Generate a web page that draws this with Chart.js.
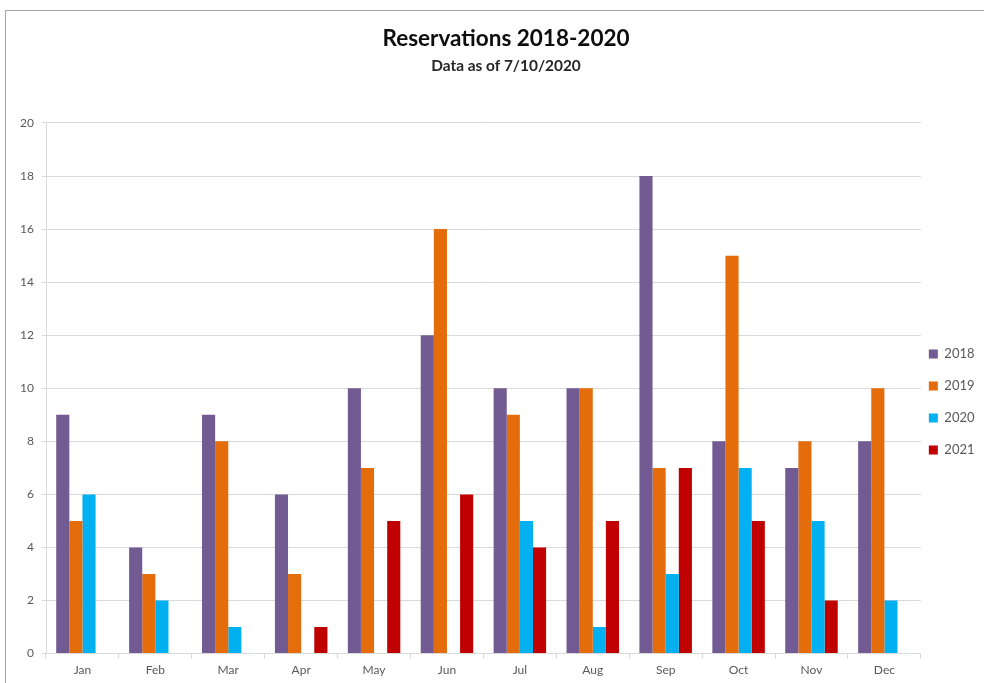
<!DOCTYPE html>
<html>
<head>
<meta charset="utf-8">
<script src="https://cdn.jsdelivr.net/npm/chart.js@4.4.1/dist/chart.umd.min.js"></script>
<style>
    html, body { margin: 0; padding: 0; background: #fff; overflow: hidden; }
    #frame {
        position: absolute; left: 5px; top: 10px;
        width: 1000px; height: 700px;
        border: 1px solid #a6a6a6;
    }
    #wrap { position: absolute; left: 0; top: 0; width: 1000px; height: 683px; }
</style>
</head>
<body>
<div id="frame"></div>
<div id="wrap"><canvas id="resChart"></canvas></div>
<script>
// Chart data
const months = ['Jan', 'Feb', 'Mar', 'Apr', 'May', 'Jun', 'Jul', 'Aug', 'Sep', 'Oct', 'Nov', 'Dec'];
const res2018 = [9, 4, 9, 6, 10, 12, 10, 10, 18, 8, 7, 8];
const res2019 = [5, 3, 8, 3, 7, 16, 9, 10, 7, 15, 8, 10];
const res2020 = [6, 2, 1, 0, 0, 0, 5, 1, 3, 7, 5, 2];
const res2021 = [0, 0, 0, 1, 5, 6, 4, 5, 7, 5, 2, 0];

const COLORS = {
    y2018: '#725b93',
    y2019: '#e46c0a',
    y2020: '#00b0f0',
    y2021: '#c00000',
    grid: '#d9d9d9',
    text: '#595959'
};

const FONT = 'Lato, "Open Sans", sans-serif';
const LEGEND_SHIFT = 11; // pull the legend a bit closer to the plot

function makeSet(label, data, color) {
    return {
        label: label,
        data: data,
        backgroundColor: color,
        borderWidth: 0,
        categoryPercentage: 0.72,
        barPercentage: 1.0
    };
}

// Moves the legend left after layout, so the plot can stay wide
const legendNudge = {
    id: 'legendNudge',
    afterLayout(chart) {
        if (!chart.legend) return;
        chart.legend.left -= LEGEND_SHIFT;
        chart.legend.right -= LEGEND_SHIFT;
    }
};

const ctx = document.getElementById('resChart').getContext('2d');

new Chart(ctx, {
    type: 'bar',
    data: {
        labels: months,
        datasets: [
            makeSet('2018', res2018, COLORS.y2018),
            makeSet('2019', res2019, COLORS.y2019),
            makeSet('2020', res2020, COLORS.y2020),
            makeSet('2021', res2021, COLORS.y2021)
        ]
    },
    plugins: [legendNudge],
    options: {
        responsive: true,
        maintainAspectRatio: false,
        animation: false,
        devicePixelRatio: 1,
        layout: {
            padding: { left: 16.5, right: 4.5, top: 25, bottom: 2 }
        },
        scales: {
            x: {
                grid: {
                    drawOnChartArea: false,
                    drawTicks: true,
                    tickLength: 5,
                    color: COLORS.grid
                },
                border: { color: COLORS.grid },
                ticks: {
                    color: COLORS.text,
                    font: { family: FONT, size: 12 },
                    padding: 4
                }
            },
            y: {
                min: 0,
                max: 20,
                ticks: {
                    stepSize: 2,
                    color: COLORS.text,
                    font: { family: FONT, size: 12 },
                    padding: 8
                },
                grid: {
                    color: COLORS.grid,
                    tickLength: 4
                },
                border: { color: COLORS.grid },
                afterFit: (scale) => { scale.width = 29.5; }
            }
        },
        plugins: {
            title: {
                display: true,
                text: 'Reservations 2018-2020',
                color: '#0d0d0d',
                font: { family: FONT, size: 22.5, weight: 'bold' },
                padding: { top: 0, bottom: 5 }
            },
            subtitle: {
                display: true,
                text: 'Data as of 7/10/2020',
                color: '#262626',
                font: { family: FONT, size: 15.4, weight: 'bold' },
                padding: { top: 0, bottom: 47.5 }
            },
            legend: {
                position: 'right',
                title: {
                    display: true,
                    text: ' ',
                    font: { family: FONT, size: 13 },
                    padding: { top: 0, bottom: 82.4 }
                },
                labels: {
                    boxWidth: 9,
                    boxHeight: 9,
                    padding: 19,
                    color: COLORS.text,
                    font: { family: FONT, size: 13 }
                }
            },
            tooltip: { enabled: false }
        }
    }
});
</script>
</body>
</html>
